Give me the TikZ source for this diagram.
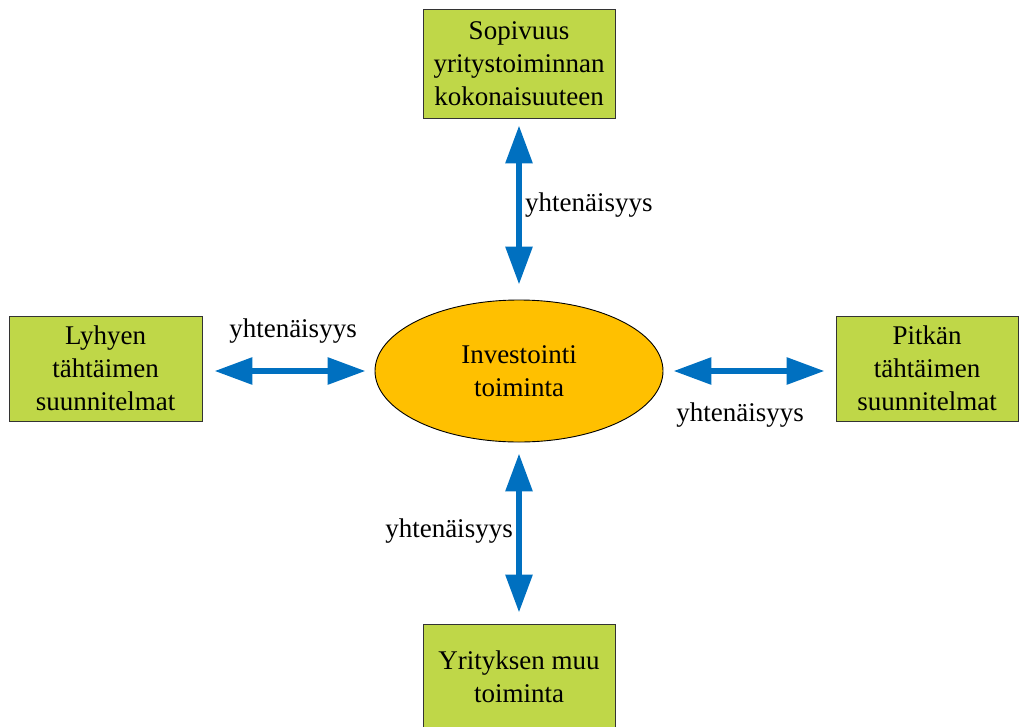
\documentclass[tikz,border=0pt]{standalone}
\usepackage{fontspec}
\setmainfont{Liberation Serif}
\usetikzlibrary{arrows.meta,shapes.geometric}
\definecolor{boxgreen}{RGB}{191,215,72}
\definecolor{ellorange}{RGB}{255,192,0}
\definecolor{arrblue}{RGB}{0,112,192}
\begin{document}
\begin{tikzpicture}[x=1pt,y=-1pt,
  greenbox/.style={draw=black!80,line width=0.9pt,fill=boxgreen,align=center,inner sep=0pt,
    font=\fontsize{27}{33}\selectfont},
  ellnode/.style={ellipse,draw=black,line width=0.9pt,fill=ellorange,align=center,inner sep=0pt,
    minimum width=288pt,minimum height=142pt,font=\fontsize{27}{33}\selectfont},
  biarrow/.style={draw=arrblue,line width=6pt,{Triangle[length=38pt,width=26pt]}-{Triangle[length=38pt,width=26pt]}},
  lbl/.style={font=\fontsize{27}{33}\selectfont,inner sep=0pt}]
\useasboundingbox (0,0) rectangle (1019,726);
\node[greenbox,minimum width=192pt,minimum height=109pt] (top) at (519,63.5) {Sopivuus\\yritystoiminnan\\kokonaisuuteen};
\node[greenbox,minimum width=193pt,minimum height=105pt] (left) at (105.5,368.5) {Lyhyen\\tähtäimen\\suunnitelmat};
\node[greenbox,minimum width=182pt,minimum height=105pt] (right) at (927,368.5) {Pitkän\\tähtäimen\\suunnitelmat};
\node[greenbox,minimum width=192pt,minimum height=105pt] (bot) at (519,676.5) {Yrityksen muu\\toiminta};
\node[ellnode] (ell) at (519,371) {Investointi\\toiminta};
\draw[biarrow,shorten <=7pt,shorten >=15pt] (top.south) -- (ell.north);
\draw[biarrow,shorten <=11pt,shorten >=11pt] (bot.north) -- (ell.south);
\draw[biarrow,shorten <=12pt,shorten >=9pt] (left.east |- ell.center) -- (ell.west);
\draw[biarrow,shorten <=10pt,shorten >=11pt] (ell.east) -- (right.west |- ell.center);
\node[lbl,anchor=west] (l1) at (525,205) {yhtenäisyys};
\node[lbl] (l2) at (293,331) {yhtenäisyys};
\node[lbl] (l3) at (740,415) {yhtenäisyys};
\node[lbl] (l4) at (449,531) {yhtenäisyys};
\end{tikzpicture}
\end{document}
